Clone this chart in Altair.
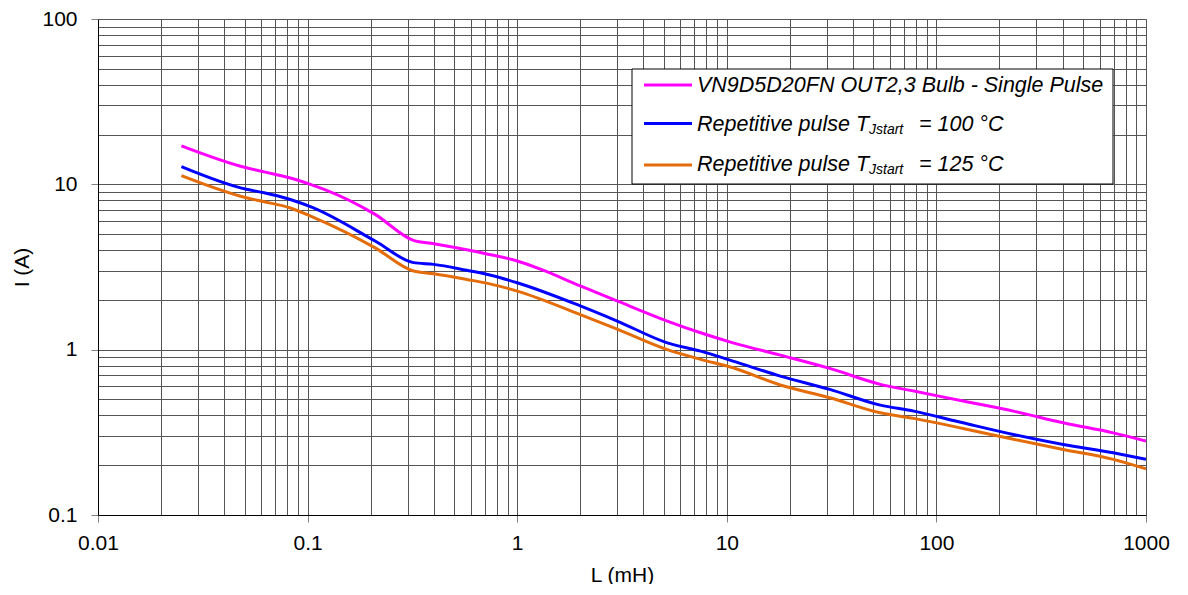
import altair as alt
import pandas as pd

# ---- data ----
series_names = [
    "VN9D5D20FN OUT2,3 Bulb - Single Pulse",
    "Repetitive pulse TJstart = 100 °C",
    "Repetitive pulse TJstart = 125 °C",
]
series_colors = ["#FF00FF", "#0000FF", "#E46C0A"]

L_single = [0.025, 0.051, 0.062, 0.082, 0.103, 0.12, 0.21, 0.32, 0.40, 0.70, 1.0, 1.3,
            2.0, 3.0, 5.2, 7.5, 10.7, 18, 31, 54, 78, 134, 233, 403, 698, 1000]
I_single = [17.1, 12.6, 11.9, 10.96, 10.0, 9.33, 6.58, 4.58, 4.37, 3.82, 3.44, 3.06,
            2.43, 1.97, 1.49, 1.265, 1.10, 0.927, 0.77, 0.617, 0.562, 0.489, 0.425,
            0.361, 0.314, 0.28]

L_rep = [0.025, 0.051, 0.062, 0.082, 0.106, 0.21, 0.32, 0.40, 0.574, 0.74, 1.0, 2.0,
         3.0, 5.2, 7.5, 10.7, 18, 31, 54, 78, 134, 233, 403, 698, 1000]
I_rep100 = [12.8, 9.33, 8.89, 8.12, 7.22, 4.54, 3.36, 3.28, 3.02, 2.83, 2.54, 1.84,
            1.49, 1.10, 0.98, 0.853, 0.692, 0.575, 0.462, 0.425, 0.361, 0.307,
            0.267, 0.238, 0.217]
I_rep125 = [11.3, 8.30, 7.85, 7.22, 6.34, 4.13, 2.99, 2.88, 2.66, 2.50, 2.26, 1.63,
            1.33, 1.0, 0.874, 0.777, 0.611, 0.512, 0.415, 0.384, 0.334, 0.287,
            0.249, 0.217, 0.19]

x_ticks = [m * 10.0 ** e for e in range(-2, 3) for m in range(1, 10)] + [1000.0]
y_ticks = [m * 10.0 ** e for e in range(-1, 2) for m in range(1, 10)] + [100.0]

rows = []
for name, Ls, Is in [(series_names[0], L_single, I_single),
                     (series_names[1], L_rep, I_rep100),
                     (series_names[2], L_rep, I_rep125)]:
    for l, i in zip(Ls, Is):
        rows.append({"series": name, "L": l, "I": i})
df = pd.DataFrame(rows)

FONT = "Liberation Sans"
DECADE = "abs(log(datum.value)/LN10 - round(log(datum.value)/LN10)) < 1e-6"
LABEL = f"({DECADE}) ? format(datum.value, '~g') : ''"

common_axis = dict(
    grid=True, gridColor="#555555", gridWidth=1, gridOpacity=1,
    tickColor="#808080", tickSize=7, tickWidth=1,
    tickOpacity={"condition": {"test": DECADE, "value": 1}, "value": 0},
    domainColor="#000000", domainWidth=1,
    labelFont=FONT, labelFontSize=21, labelColor="#000000", labelOverlap=False,
    labelFlush=False, labelExpr=LABEL,
    titleFont=FONT, titleFontSize=21, titleFontWeight="normal", titleColor="#000000",
)

lines = alt.Chart(df).mark_line(strokeWidth=3, interpolate="monotone", clip=True).encode(
    x=alt.X("L:Q", scale=alt.Scale(type="log", domain=[0.01, 1000], nice=False),
            axis=alt.Axis(values=x_ticks, title="L (mH)", labelPadding=10,
                          titlePadding=11, **common_axis)),
    y=alt.Y("I:Q", scale=alt.Scale(type="log", domain=[0.1, 100], nice=False),
            axis=alt.Axis(values=y_ticks, title="I (A)", labelPadding=14,
                          titlePadding=9, **common_axis)),
    color=alt.Color("series:N", scale=alt.Scale(domain=series_names, range=series_colors),
                    legend=None),
)

# ---- hand-drawn legend (to allow the subscript) ----
dummy = pd.DataFrame({"k": [0]})
base = alt.Chart(dummy)
legend_box = base.mark_rect(fill="white", stroke="black", strokeWidth=1).encode(
    x=alt.value(534), x2=alt.value(1015), y=alt.value(50), y2=alt.value(165))

legend_layers = [legend_box]
row_line_y = [66, 104.5, 146]
row_base_y = [72.5, 112, 152]
for k in range(3):
    legend_layers.append(base.mark_rule(color=series_colors[k], strokeWidth=3).encode(
        x=alt.value(546), x2=alt.value(594), y=alt.value(row_line_y[k])))

txt = dict(font=FONT, fontSize=21.5, fontStyle="italic", color="black",
           align="left", baseline="alphabetic")
legend_layers.append(base.mark_text(**txt).encode(
    x=alt.value(599), y=alt.value(row_base_y[0]), text=alt.value(series_names[0])))
for k, temp in [(1, "= 100 °C"), (2, "= 125 °C")]:
    legend_layers.append(base.mark_text(**txt).encode(
        x=alt.value(599), y=alt.value(row_base_y[k]), text=alt.value("Repetitive pulse T")))
    legend_layers.append(base.mark_text(**dict(txt, fontSize=14)).encode(
        x=alt.value(771), y=alt.value(row_base_y[k] + 3), text=alt.value("Jstart")))
    legend_layers.append(base.mark_text(**txt).encode(
        x=alt.value(821), y=alt.value(row_base_y[k]), text=alt.value(temp)))

chart = alt.layer(lines, *legend_layers).properties(
    width=1048, height=496,
    padding={"left": 90, "top": 11, "right": 30, "bottom": 69},
    autosize=alt.AutoSizeParams(type="none"),
).configure_view(stroke=None).configure(background="white")

chart.save("out.html", embed_options={"renderer": "svg", "actions": False})
